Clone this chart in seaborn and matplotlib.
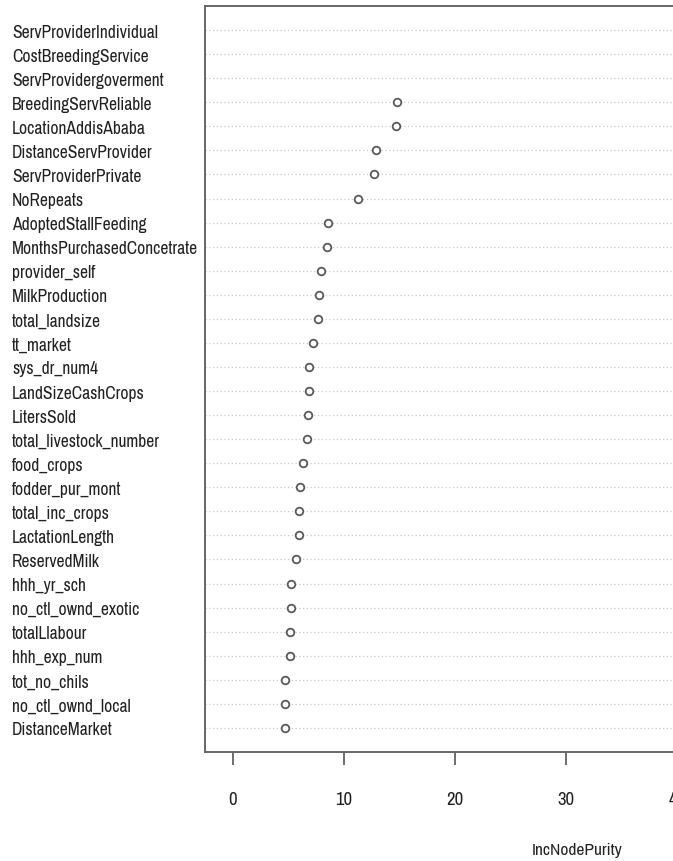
import matplotlib
matplotlib.use("Agg")
import matplotlib.pyplot as plt
import seaborn as sns
import pandas as pd

# Random-forest variable importance (IncNodePurity), highest first
variables = [
    "ServProviderIndividual", "CostBreedingService", "ServProvidergoverment",
    "BreedingServReliable", "LocationAddisAbaba", "DistanceServProvider",
    "ServProviderPrivate", "NoRepeats", "AdoptedStallFeeding",
    "MonthsPurchasedConcetrate", "provider_self", "MilkProduction",
    "total_landsize", "tt_market", "sys_dr_num4", "LandSizeCashCrops",
    "LitersSold", "total_livestock_number", "food_crops", "fodder_pur_mont",
    "total_inc_crops", "LactationLength", "ReservedMilk", "hhh_yr_sch",
    "no_ctl_ownd_exotic", "totalLlabour", "hhh_exp_num", "tot_no_chils",
    "no_ctl_ownd_local", "DistanceMarket",
]
inc_node_purity = [
    62.0, 46.0, 41.5,
    14.8, 14.7, 12.9, 12.7, 11.3, 8.6, 8.5, 8.0, 7.8, 7.7, 7.2, 6.9, 6.9,
    6.8, 6.7, 6.3, 6.1, 6.0, 6.0, 5.7, 5.3, 5.3, 5.2, 5.2, 4.7, 4.7, 4.7,
]
x_ticks = [0, 10, 20, 30, 40, 50, 60]
x_label = "IncNodePurity"

sns.set_theme(style="white")
plt.rcParams["font.family"] = ["Archivo Narrow", "Liberation Sans", "DejaVu Sans"]

df = pd.DataFrame({"variable": variables, "importance": inc_node_purity})
df["row"] = range(len(df))

W, H = 673, 862
fig = plt.figure(figsize=(W / 100, H / 100), dpi=100)
# plot region as in an R dotchart: xlim = [0, max] padded by 4 %
xmax = max(inc_node_purity)
pad = 0.04 * xmax
x_lo, x_hi = -pad, xmax + pad
left_px, top_px, bottom_px = 205, 7, 753
px_per_unit = 11.11
right_px = left_px + (x_hi - x_lo) * px_per_unit
ax = fig.add_axes([left_px / W, 1 - bottom_px / H,
                   (right_px - left_px) / W, (bottom_px - top_px) / H])

sns.scatterplot(data=df, x="importance", y="row", ax=ax, marker="o",
                s=30, facecolor="white", edgecolor="#5a5a5a", linewidth=1.3,
                zorder=3, legend=False)

ax.set_xlim(x_lo, x_hi)
ax.set_ylim(len(df), -1)
ax.set_ylabel("")

ax.set_yticks(df["row"])
ax.set_yticklabels(df["variable"])
ax.grid(axis="y", linestyle=(0, (1, 2)), color="#c8c8c8", linewidth=0.9)
ax.grid(axis="x", visible=False)
ax.tick_params(axis="y", length=0, pad=(left_px - 12) * 0.72,
               labelsize=12.6, labelcolor="#222222")
for lbl in ax.get_yticklabels():
    lbl.set_horizontalalignment("left")

ax.set_xticks(x_ticks)
ax.set_xticklabels([str(t) for t in x_ticks])
ax.tick_params(axis="x", bottom=True, length=9, width=1.2, color="#555555",
               pad=19, labelsize=13.5, labelcolor="#222222")
ax.set_xlabel(x_label, fontsize=12.5, color="#222222", labelpad=25)

for side in ["left", "bottom", "top"]:
    ax.spines[side].set_color("#666666")
    ax.spines[side].set_linewidth(1.4)
ax.spines["right"].set_visible(False)

fig.savefig("out.png", dpi=100)
